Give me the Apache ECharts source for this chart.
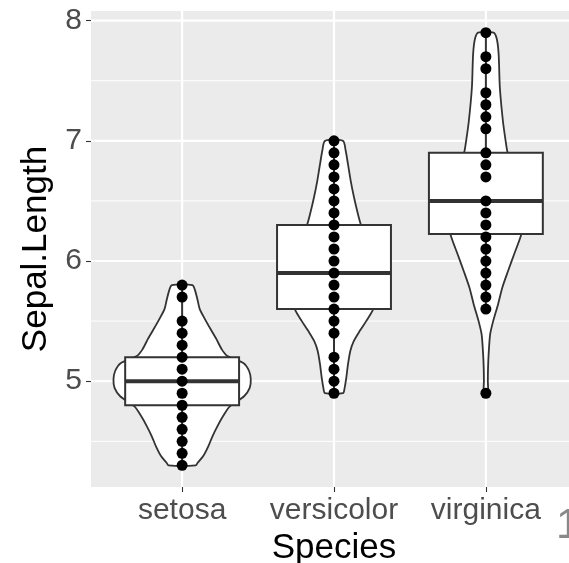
<!DOCTYPE html>
<html><head><meta charset="utf-8">
<script src="https://cdn.jsdelivr.net/npm/echarts@6/dist/echarts.min.js"></script>
<style>html,body{margin:0;padding:0;background:#fff}#c{width:569px;height:563px}</style>
</head><body><div id="c"></div>
<script>
const categories = ['setosa', 'versicolor', 'virginica'];
const xTicks = [1, 2, 3];
const yTicks = [5, 6, 7, 8];
const yMinorTicks = [4.5, 5.5, 6.5, 7.5];

// observed (unique) Sepal.Length values per species
const setosaValues = [4.3, 4.4, 4.5, 4.6, 4.7, 4.8, 4.9, 5.0, 5.1, 5.2, 5.3, 5.4, 5.5, 5.7, 5.8];
const versicolorValues = [4.9, 5.0, 5.1, 5.2, 5.4, 5.5, 5.6, 5.7, 5.8, 5.9, 6.0, 6.1, 6.2, 6.3, 6.4, 6.5, 6.6, 6.7, 6.8, 6.9, 7.0];
const virginicaValues = [4.9, 5.6, 5.7, 5.8, 5.9, 6.0, 6.1, 6.2, 6.3, 6.4, 6.5, 6.7, 6.8, 6.9, 7.1, 7.2, 7.3, 7.4, 7.6, 7.7, 7.9];

// box stats: [lower whisker, Q1, median, Q3, upper whisker]
const setosaBox = [4.3, 4.8, 5.0, 5.2, 5.8];
const versicolorBox = [4.9, 5.6, 5.9, 6.3, 7.0];
const virginicaBox = [5.6, 6.225, 6.5, 6.9, 7.9];

// violin profiles: y values and half-widths (x-axis units)
const setosaViolinY = [4.30, 4.32, 4.375, 4.46, 4.54, 4.625, 4.71, 4.79, 4.875, 4.945, 5.015, 5.085, 5.15, 5.21, 5.265, 5.35, 5.43, 5.515, 5.60, 5.68, 5.76, 5.80];
const setosaViolinW = [0.090, 0.101, 0.138, 0.173, 0.199, 0.232, 0.270, 0.314, 0.408, 0.445, 0.452, 0.441, 0.405, 0.298, 0.261, 0.226, 0.189, 0.151, 0.116, 0.101, 0.084, 0.068];
const versicolorViolinY = [4.90, 4.945, 5.03, 5.14, 5.25, 5.333, 5.417, 5.50, 5.583, 5.70, 5.85, 6.00, 6.15, 6.292, 6.389, 6.528, 6.667, 6.806, 6.917, 7.00];
const versicolorViolinW = [0.059, 0.070, 0.081, 0.092, 0.107, 0.130, 0.169, 0.212, 0.252, 0.290, 0.305, 0.290, 0.235, 0.180, 0.158, 0.132, 0.110, 0.092, 0.077, 0.059];
const virginicaViolinY = [4.90, 5.00, 5.10, 5.222, 5.389, 5.50, 5.639, 5.778, 5.917, 6.056, 6.208, 6.35, 6.50, 6.70, 6.903, 7.00, 7.167, 7.444, 7.722, 7.847, 7.90];
const virginicaViolinW = [0.013, 0.013, 0.014, 0.018, 0.028, 0.048, 0.080, 0.108, 0.146, 0.186, 0.230, 0.255, 0.250, 0.200, 0.143, 0.130, 0.112, 0.092, 0.084, 0.072, 0.051];

const allValues = [setosaValues, versicolorValues, virginicaValues];
const allBoxes = [setosaBox, versicolorBox, virginicaBox];
const violinYs = [setosaViolinY, versicolorViolinY, virginicaViolinY];
const violinWs = [setosaViolinW, versicolorViolinW, virginicaViolinW];
const boxHalfWidth = 0.375;

const FONT = 'Liberation Sans, Arial, Helvetica, sans-serif';
const chart = echarts.init(document.getElementById('c'), null, { renderer: 'canvas' });

const scatterData = [];
allValues.forEach((vals, i) => vals.forEach(v => scatterData.push([i + 1, v])));

const option = {
  animation: false,
  backgroundColor: '#ffffff',
  grid: { left: 91, top: 11, width: 486, height: 476, show: true, backgroundColor: '#EBEBEB', borderWidth: 0,
    containLabel: false, outerBoundsMode: 'none' },
  xAxis: {
    type: 'value', min: 0.4, max: 3.6,
    name: 'Species', nameLocation: 'middle', nameGap: 36,
    nameTextStyle: { color: '#000', fontSize: 35, fontFamily: FONT },
    axisLine: { show: false },
    splitLine: { show: false },
    axisTick: { show: true, length: 5, customValues: xTicks, lineStyle: { color: '#333', width: 1.1 } },
    axisLabel: { customValues: xTicks, color: '#4D4D4D', fontSize: 30, fontFamily: FONT, margin: 9,
      formatter: v => categories[Math.round(v) - 1] }
  },
  yAxis: {
    type: 'value', min: 4.12, max: 8.08,
    name: 'Sepal.Length', nameLocation: 'middle', nameGap: 37, nameRotate: 90,
    nameTextStyle: { color: '#000', fontSize: 35, fontFamily: FONT },
    axisLine: { show: false },
    splitLine: { show: false },
    axisTick: { show: true, length: 5, customValues: yTicks, lineStyle: { color: '#333', width: 1.1 } },
    axisLabel: { customValues: yTicks, color: '#4D4D4D', fontSize: 30, fontFamily: FONT, margin: 9 }
  },
  graphic: [{
    type: 'text', left: 556, top: 505, silent: true,
    style: { text: '1', fill: '#888', fontSize: 43, fontFamily: FONT }
  }],
  series: [
    {
      type: 'custom', name: 'grid', silent: true, z: 1,
      data: [[0]],
      renderItem: (params, api) => {
        const cs = params.coordSys;
        const children = [];
        yMinorTicks.forEach(v => {
          const p = api.coord([1, v]);
          children.push({ type: 'line', shape: { x1: cs.x, y1: p[1], x2: cs.x + cs.width, y2: p[1] }, style: { stroke: '#fff', lineWidth: 1 } });
        });
        yTicks.forEach(v => {
          const p = api.coord([1, v]);
          children.push({ type: 'line', shape: { x1: cs.x, y1: p[1], x2: cs.x + cs.width, y2: p[1] }, style: { stroke: '#fff', lineWidth: 2.2 } });
        });
        xTicks.forEach(v => {
          const p = api.coord([v, 6]);
          children.push({ type: 'line', shape: { x1: p[0], y1: cs.y, x2: p[0], y2: cs.y + cs.height }, style: { stroke: '#fff', lineWidth: 2.2 } });
        });
        return { type: 'group', children };
      }
    },
    {
      type: 'custom', name: 'violin', silent: true, z: 2,
      data: categories.map((c, i) => [i]),
      renderItem: (params, api) => {
        const i = api.value(0);
        const ys = violinYs[i], ws = violinWs[i];
        const pts = [];
        for (let k = 0; k < ys.length; k++) pts.push(api.coord([i + 1 - ws[k], ys[k]]));
        for (let k = ys.length - 1; k >= 0; k--) pts.push(api.coord([i + 1 + ws[k], ys[k]]));
        return { type: 'polygon', shape: { points: pts, smooth: 0.25 }, style: { fill: '#fff', stroke: '#333', lineWidth: 1.8 } };
      }
    },
    {
      type: 'custom', name: 'box', silent: true, z: 3,
      data: categories.map((c, i) => [i]),
      renderItem: (params, api) => {
        const i = api.value(0);
        const b = allBoxes[i];
        const c = i + 1;
        const pLo = api.coord([c, b[0]]), pQ1 = api.coord([c, b[1]]), pMed = api.coord([c, b[2]]), pQ3 = api.coord([c, b[3]]), pHi = api.coord([c, b[4]]);
        const xl = api.coord([c - boxHalfWidth, b[2]])[0], xr = api.coord([c + boxHalfWidth, b[2]])[0];
        return {
          type: 'group', children: [
            { type: 'line', shape: { x1: pLo[0], y1: pLo[1], x2: pQ1[0], y2: pQ1[1] }, style: { stroke: '#333', lineWidth: 2 } },
            { type: 'line', shape: { x1: pQ3[0], y1: pQ3[1], x2: pHi[0], y2: pHi[1] }, style: { stroke: '#333', lineWidth: 2 } },
            { type: 'rect', shape: { x: xl, y: pQ3[1], width: xr - xl, height: pQ1[1] - pQ3[1] }, style: { fill: '#fff', stroke: '#333', lineWidth: 2 } },
            { type: 'line', shape: { x1: xl, y1: pMed[1], x2: xr, y2: pMed[1] }, style: { stroke: '#333', lineWidth: 4 } }
          ]
        };
      }
    },
    {
      type: 'scatter', name: 'points', z: 4, silent: true,
      symbol: 'circle', symbolSize: 11,
      itemStyle: { color: '#000', opacity: 1 },
      data: scatterData
    }
  ]
};
chart.setOption(option);
</script></body></html>
